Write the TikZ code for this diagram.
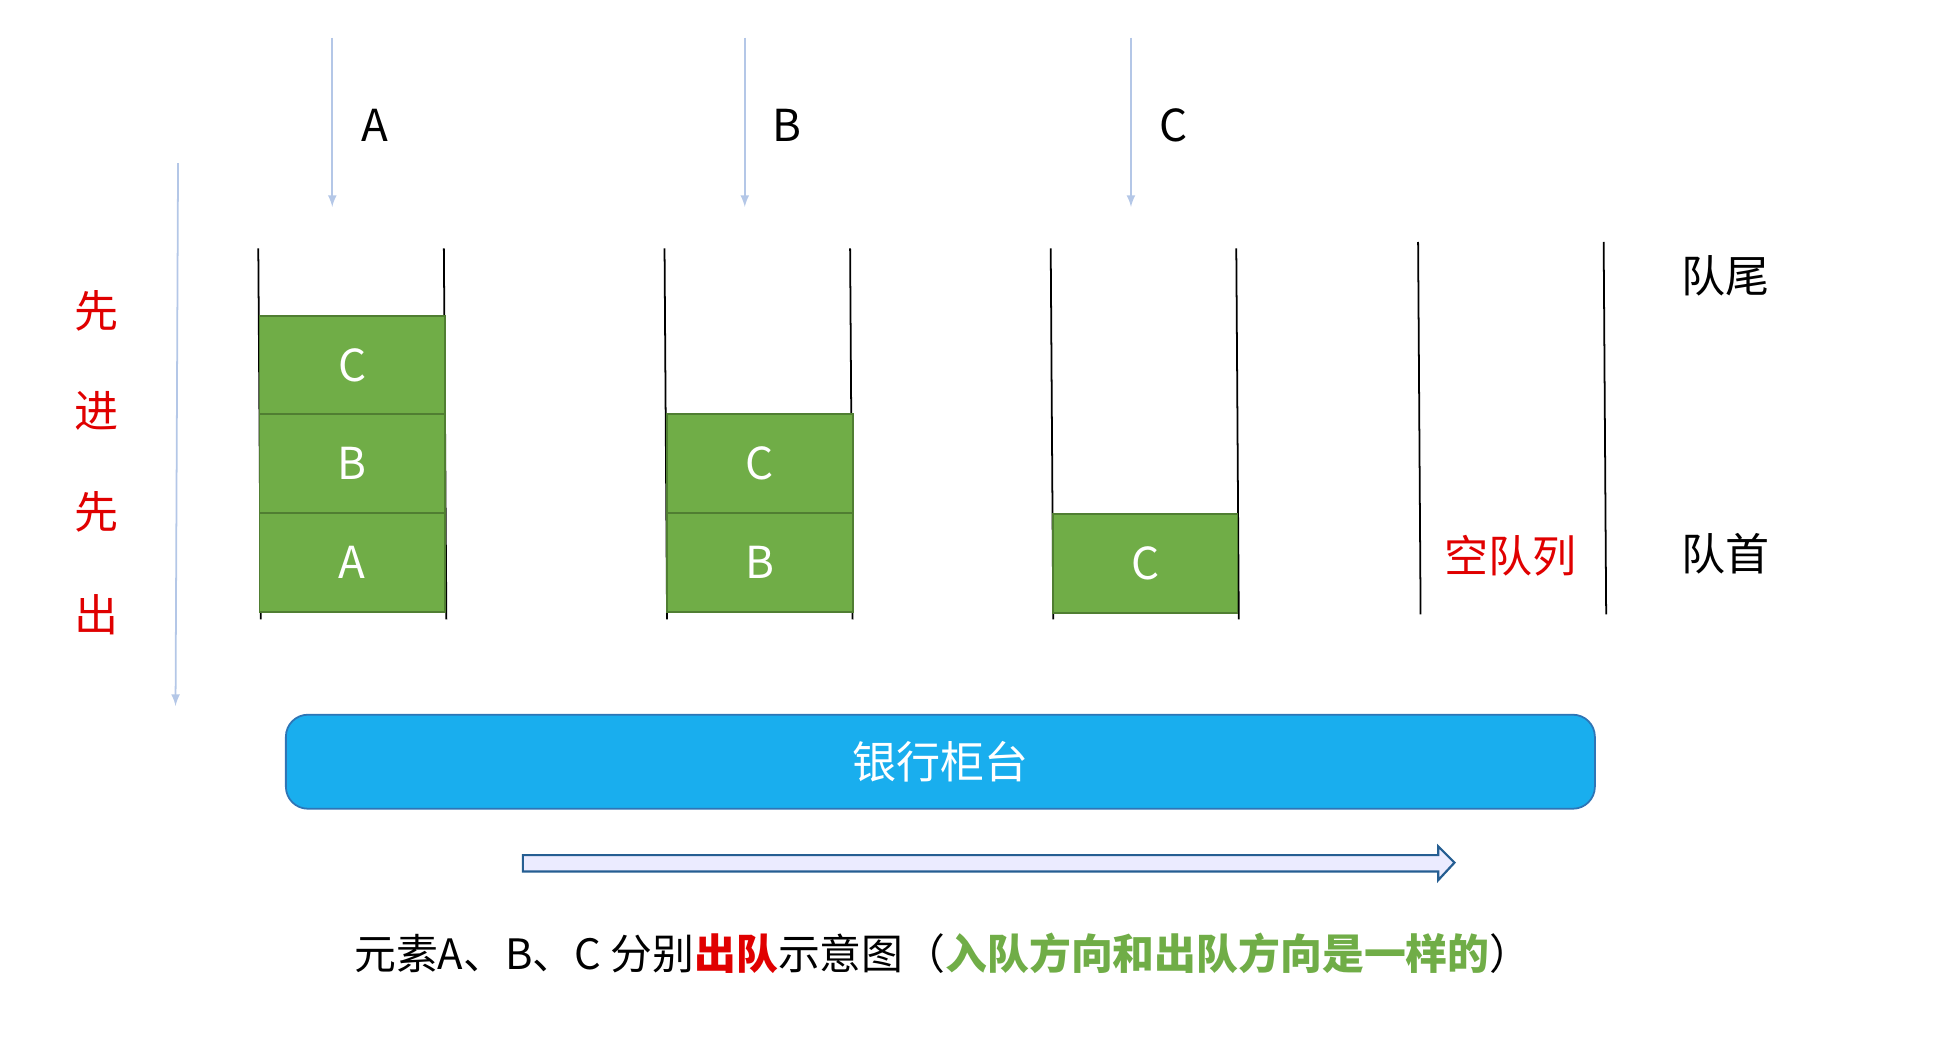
\documentclass[tikz,border=0pt]{standalone}
\usepackage{fontspec}
\setmainfont{Noto Sans CJK SC}
\usetikzlibrary{shapes.arrows}
\definecolor{gr}{HTML}{70AD47}
\definecolor{grd}{HTML}{507E32}
\definecolor{lb}{HTML}{B4C7E7}
\definecolor{bb}{HTML}{19AEEE}
\definecolor{bbd}{HTML}{2E75B6}
\definecolor{rd}{HTML}{E00000}
\begin{document}
\begin{tikzpicture}[x=0.02cm,y=-0.02cm,
  cell/.style={draw=grd,fill=gr,line width=0.8pt,text=white,font=\fontsize{20}{20}\selectfont},
  wall/.style={line width=0.8pt},
  thin/.style={draw=lb,line width=0.8pt,-latex},
  lab/.style={font=\fontsize{20}{20}\selectfont}]
\useasboundingbox (0,0) rectangle (1560,839);
% left arrow
\coordinate (l1) at (142,130); \coordinate (l2) at (140,563);
\draw[thin] (l1) -- (l2);
\foreach \t/\y in {先/248,进/328,先/408,出/490}
  \node[lab,text=rd] at (77,\y) {\t};
% input arrows
\foreach \n/\x in {A/265,B/594,C/902}{
  \coordinate (s\n) at (\x,30); \coordinate (e\n) at (\x,165);
  \draw[thin] (s\n) -- (e\n);
  \node[lab] (t\n) at (\x+34,100) {\n};
}
% walls
\foreach \a/\b/\t/\u in {206/354/198/494,530/678/198/494,838/986/198/494,1131/1279/193/490}{
  \draw[wall] (\a,\t) -- (\a+2,\u);
  \draw[wall] (\b,\t) -- (\b+2,\u);
}
% cells
\draw[cell] (207,252) rectangle node (c1) {C} (355,330);
\draw[cell] (207,330) rectangle node (b1) {B} (355,409);
\draw[cell] (207,409) rectangle node (a1) {A} (355,488);
\draw[cell] (532,330) rectangle node (c2) {C} (680,409);
\draw[cell] (532,409) rectangle node (b2) {B} (680,488);
\draw[cell] (840,410) rectangle node (c3) {C} (987,489);
\node[lab,text=rd] (empty) at (1205,443) {空队列};
\node[lab] (tail) at (1376,220) {队尾};
\node[lab] (head) at (1376,442) {队首};
% counter
\draw[draw=bbd,fill=bb,rounded corners=10pt,line width=0.8pt] (228,570) rectangle node[text=white,font=\fontsize{20}{20}\selectfont] (bank) {银行柜台} (1272,645);
% big arrow
\draw[draw=bbd!80!black,fill=blue!8!white,line width=1pt] (417,682) -- (1147,682) -- (1147,675) -- (1160,688) -- (1147,702) -- (1147,695) -- (417,695) -- cycle;
\node[font=\fontsize{19}{19}\selectfont] (cap) at (752,760) {元素A、B、C 分别\textcolor{rd}{\bfseries 出队}示意图（\textcolor{gr}{\bfseries 入队方向和出队方向是一样的}）};
\end{tikzpicture}
\end{document}
